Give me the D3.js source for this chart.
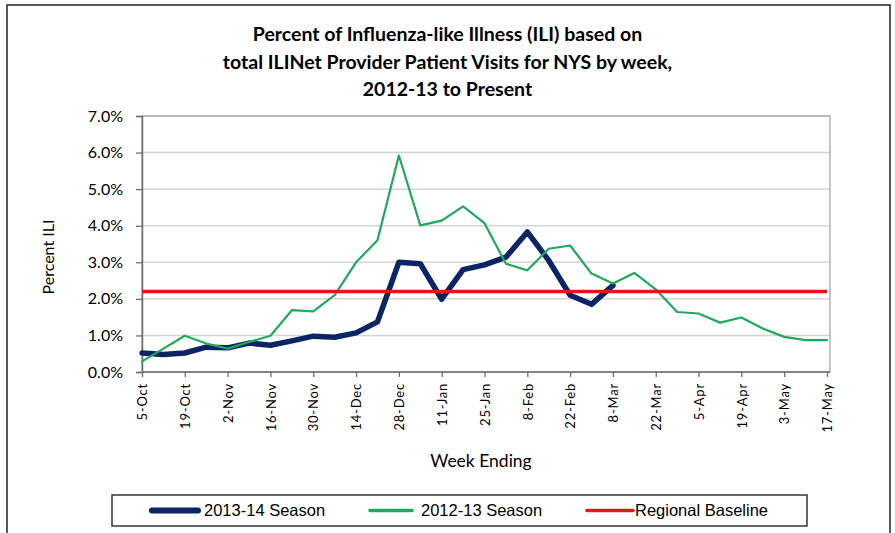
<!DOCTYPE html>
<html lang="en">
    <head>
        <meta charset="utf-8">
        <title>Percent of ILI, NYS by week</title>
        <script src="https://d3js.org/d3.v7.min.js"></script>
        <style>
            body { margin: 0; background: #fff; }
            svg text { fill: #000; }
        </style>
    </head>
    <body>
    <div id="mainDiv"></div>

        <script type="text/javascript">
            // week ending dates on the category axis
            const weeks = ['5-Oct', '12-Oct', '19-Oct', '26-Oct', '2-Nov', '9-Nov', '16-Nov', '23-Nov',
                '30-Nov', '7-Dec', '14-Dec', '21-Dec', '28-Dec', '4-Jan', '11-Jan', '18-Jan', '25-Jan',
                '1-Feb', '8-Feb', '15-Feb', '22-Feb', '1-Mar', '8-Mar', '15-Mar', '22-Mar', '29-Mar',
                '5-Apr', '12-Apr', '19-Apr', '26-Apr', '3-May', '10-May', '17-May']

            // percent ILI
            const season1314 = [0.52, 0.48, 0.52, 0.68, 0.66, 0.79, 0.73, 0.85, 0.98, 0.95, 1.07, 1.37,
                3.00, 2.96, 1.99, 2.80, 2.93, 3.14, 3.83, 3.05, 2.10, 1.85, 2.37]
            const season1213 = [0.29, 0.64, 0.99, 0.78, 0.64, 0.82, 0.99, 1.69, 1.66, 2.10, 3.00, 3.60,
                5.92, 4.01, 4.14, 4.53, 4.07, 2.96, 2.78, 3.37, 3.46, 2.69, 2.42, 2.71, 2.26, 1.64,
                1.60, 1.35, 1.49, 1.19, 0.96, 0.87, 0.87]
            const baseline = weeks.map(() => 2.2)

            const yTicks = [0, 1, 2, 3, 4, 5, 6, 7]
            const titleLines = ['Percent of Influenza-like Illness (ILI) based on',
                'total ILINet Provider Patient Visits for NYS by week,',
                '2012-13 to Present']

            const series = [
                { name: '2013-14 Season', values: season1314, color: '#0b2463', width: 5.5 },
                { name: '2012-13 Season', values: season1213, color: '#22a85e', width: 2.2 },
                { name: 'Regional Baseline', values: baseline, color: '#e8141b', width: 3.6 }
            ]

            const width = 895
            const height = 533
            const plot = { left: 142, right: 830, top: 116, bottom: 372 }

            const svg = d3.select('#mainDiv').append('svg')
                .attr('width', width)
                .attr('height', height)
                .style('font-family', 'Lato, "Open Sans", sans-serif')

            svg.append('rect')
                .attr('width', width).attr('height', height).attr('fill', '#fff')

            // outer chart frame
            svg.append('rect')
                .attr('x', 7).attr('y', 5)
                .attr('width', 883).attr('height', 540)
                .attr('fill', 'none').attr('stroke', '#222').attr('stroke-width', 1.5)

            const xScale = d3.scalePoint()
                .domain(weeks)
                .range([plot.left, plot.right - 3])

            const yScale = d3.scaleLinear()
                .domain([0, 7])
                .range([plot.bottom, plot.top])

            // gridlines
            svg.append('g')
                .selectAll('line')
                .data(yTicks.slice(1))
                .join('line')
                .attr('x1', plot.left).attr('x2', plot.right)
                .attr('y1', d => yScale(d)).attr('y2', d => yScale(d))
                .attr('stroke', '#d4d4d4').attr('stroke-width', 1.5)

            svg.append('rect')
                .attr('x', plot.left).attr('y', plot.top)
                .attr('width', plot.right - plot.left).attr('height', plot.bottom - plot.top)
                .attr('fill', 'none').attr('stroke', '#a6a6a6').attr('stroke-width', 1.3)

            // axes
            const yAxis = d3.axisLeft(yScale)
                .tickValues(yTicks)
                .tickFormat(d => d.toFixed(1) + '%')
                .tickSize(6)
                .tickPadding(13)

            const yg = svg.append('g')
                .attr('transform', `translate(${plot.left},0)`)
                .call(yAxis)
            yg.select('.domain').attr('stroke', '#6e6e6e').attr('stroke-width', 1.5)
            yg.selectAll('.tick line').attr('stroke', '#6e6e6e').attr('stroke-width', 1.3)
            yg.selectAll('text')
                .style('font-family', 'Lato, sans-serif')
                .style('font-size', '16px')

            const xAxis = d3.axisBottom(xScale)
                .tickValues(weeks.filter((d, i) => i % 2 === 0))
                .tickSize(5)
                .tickSizeOuter(0)

            const xg = svg.append('g')
                .attr('transform', `translate(0,${plot.bottom})`)
                .call(xAxis)
            xg.select('.domain').attr('stroke', '#6e6e6e').attr('stroke-width', 1.5)
                .attr('d', `M${plot.left},0H${plot.right}`)
            xg.selectAll('.tick line').attr('stroke', '#6e6e6e').attr('stroke-width', 1.3)
            xg.selectAll('text')
                .attr('transform', 'rotate(-90)')
                .attr('x', -11)
                .attr('y', 0)
                .attr('dy', '0.36em')
                .style('text-anchor', 'end')
                .style('font-family', 'Lato, sans-serif')
                .style('font-size', '13px')
                .style('letter-spacing', '0.8px')

            // axis titles
            svg.append('text')
                .attr('transform', 'translate(48,257) rotate(-90)')
                .attr('dy', '0.35em')
                .attr('text-anchor', 'middle')
                .style('font-size', '16px')
                .text('Percent ILI')

            svg.append('text')
                .attr('x', 481).attr('y', 467)
                .attr('text-anchor', 'middle')
                .style('font-size', '17.5px')
                .text('Week Ending')

            // title
            svg.append('g')
                .selectAll('text')
                .data(titleLines)
                .join('text')
                .attr('x', width / 2)
                .attr('y', (d, i) => 41 + i * 27.5)
                .attr('text-anchor', 'middle')
                .style('font-size', '19.5px')
                .style('font-weight', 'bold')
                .text(d => d)

            // series lines
            const line = d3.line()
                .x((d, i) => xScale(weeks[i]))
                .y(d => yScale(d))

            svg.append('g')
                .selectAll('path')
                .data(series)
                .join('path')
                .attr('d', d => line(d.values))
                .attr('fill', 'none')
                .attr('stroke', d => d.color)
                .attr('stroke-width', d => d.width)
                .attr('stroke-linejoin', 'round')
                .attr('stroke-linecap', d => d.name === 'Regional Baseline' ? 'butt' : 'round')

            // legend
            const legendX = [152, 370, 587]
            const legendGap = [6, 9, 2]
            svg.append('rect')
                .attr('x', 112).attr('y', 495)
                .attr('width', 695).attr('height', 31)
                .attr('fill', '#fff').attr('stroke', '#333').attr('stroke-width', 1.5)

            const items = svg.append('g')
                .selectAll('g')
                .data(series)
                .join('g')
                .attr('transform', (d, i) => `translate(${legendX[i]},510.5)`)

            items.append('line')
                .attr('x1', 0).attr('x2', (d, i) => i === 1 ? 42 : 46)
                .attr('stroke', d => d.color)
                .attr('stroke-width', d => d.name === '2013-14 Season' ? 6 : 3.5)
                .attr('stroke-linecap', 'round')

            items.append('text')
                .attr('x', (d, i) => (i === 1 ? 42 : 46) + legendGap[i])
                .attr('dy', '0.35em')
                .style('font-family', '"Liberation Sans", Arial, sans-serif')
                .style('font-size', '16.5px')
                .text(d => d.name)
        </script>
    </body>
</html>
